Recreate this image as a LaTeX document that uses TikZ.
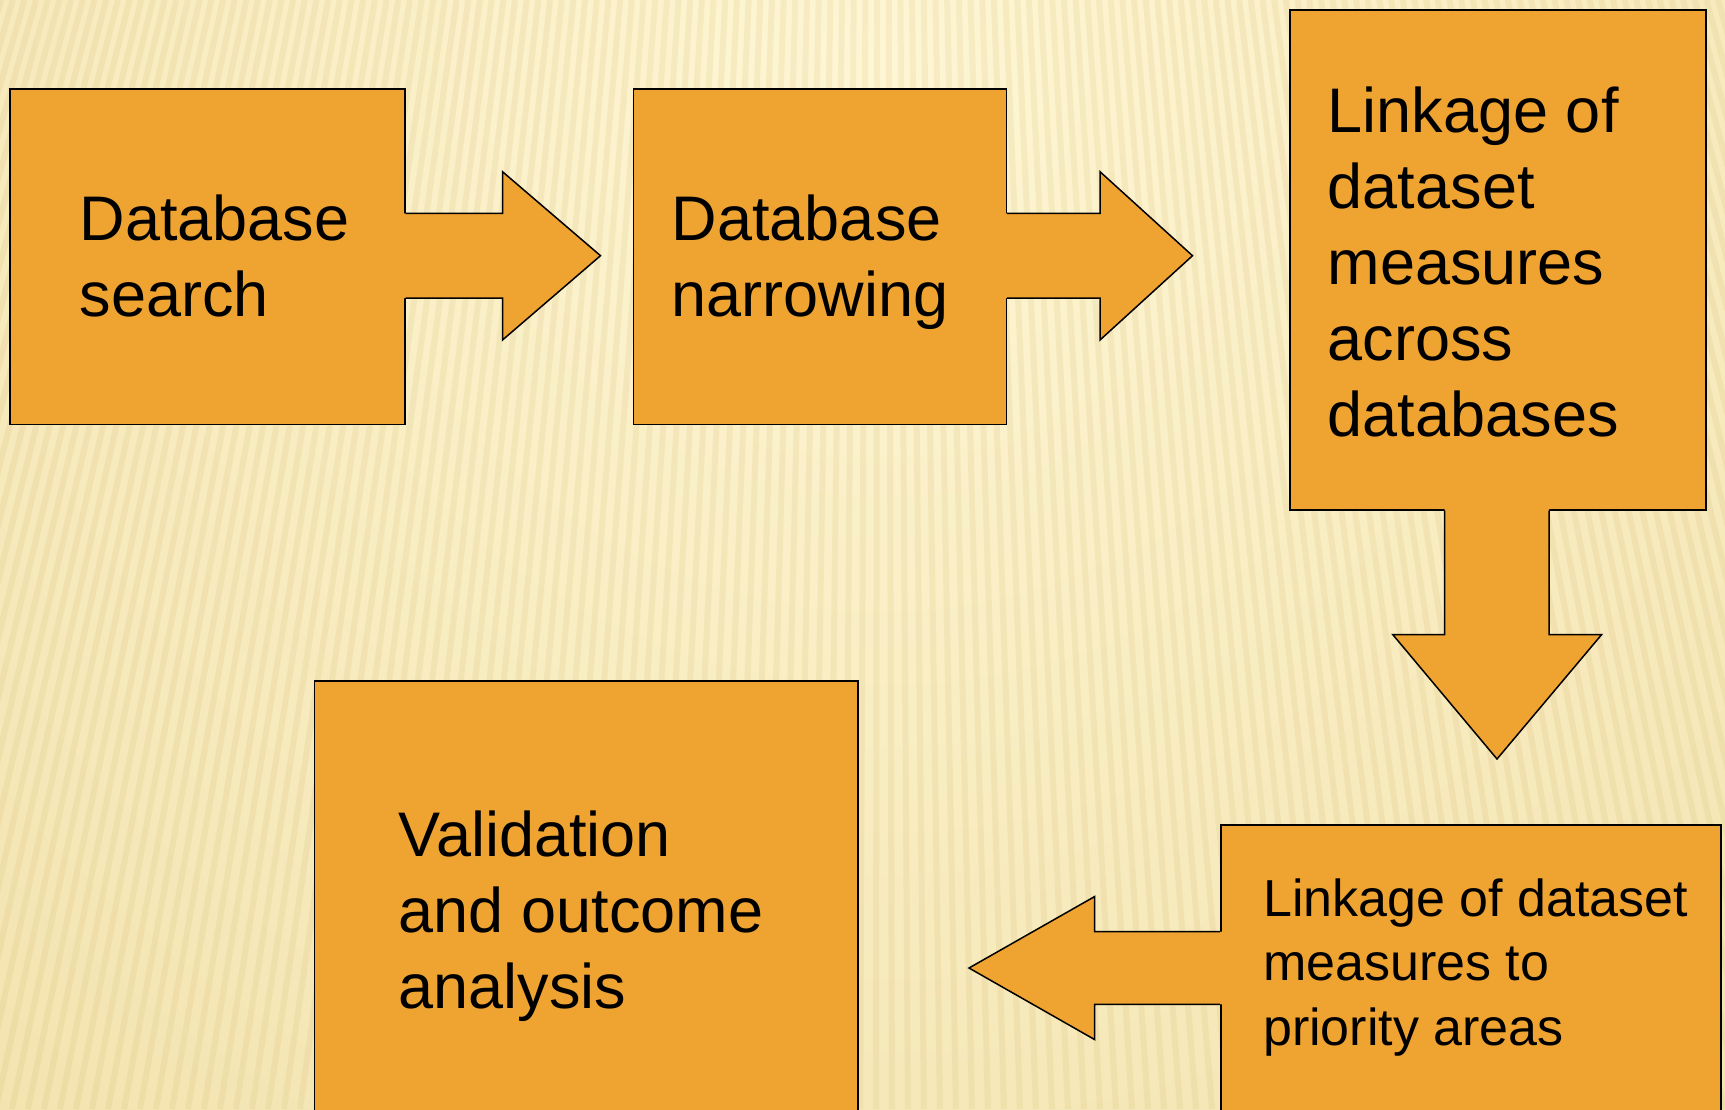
\documentclass[tikz,border=0pt]{standalone}
\usepackage{fontspec}
\setmainfont{Liberation Sans}
\usetikzlibrary{calc}

\definecolor{boxfill}{RGB}{239,163,48}
\definecolor{bglight}{RGB}{254,246,212}
\definecolor{bgdark}{RGB}{234,212,146}
\definecolor{bgstripe}{RGB}{206,176,98}

\begin{document}
\begin{tikzpicture}[x=1pt, y=-1pt,
    box/.style={rectangle, draw=black, line width=1.5pt, fill=boxfill,
                anchor=north west, inner sep=0pt},
    boxtext/.style={anchor=base west, align=left, inner sep=0pt,
                    font=\fontsize{63}{76}\selectfont},
    smalltext/.style={boxtext, font=\fontsize{52}{64.5}\selectfont},
    arrowline/.style={draw=black, line width=1.5pt, line join=miter}
]

\useasboundingbox (0,0) rectangle (1725,1109);

% background
\fill[bgdark] (0,0) rectangle (1725,1109);
\begin{scope}
    \clip (0,0) rectangle (1725,1109);
    \shade[inner color=bglight, outer color=bgdark] (880,60) circle (2500);
    \foreach \x in {-420,-404,...,2200}
        \draw[bgstripe, opacity=.14, line width=6pt] (\x,1109) -- ({880+(\x-880)*0.73},0);
\end{scope}

% boxes
\node[box, minimum width=395pt, minimum height=335.5pt] (searchbox) at (9,88) {};
\node[box, minimum width=373pt, minimum height=335.5pt] (narrowbox) at (632.6,88) {};
\node[box, minimum width=416pt, minimum height=500pt] (acrossbox) at (1289,9) {};
\node[box, minimum width=500pt, minimum height=320pt] (prioritybox) at (1220,824) {};
\node[box, minimum width=543.5pt, minimum height=460pt] (validbox) at (313.5,680) {};

% arrow tips
\coordinate (tipsearch) at (600.5,255.7);
\coordinate (tipnarrow) at (1192.5,255.7);
\coordinate (tipacross) at (1497,759);
\coordinate (tippriority) at (969,968);

% callout arrows
\fill[boxfill] (400,213.4) -- (502.5,213.4) -- (502.5,171.7) -- (tipsearch)
    -- (502.5,340) -- (502.5,298.1) -- (400,298.1) -- cycle;
\path[arrowline] (searchbox.east |- 0,213.4) -- (502.5,213.4) -- (502.5,171.7) -- (tipsearch)
    -- (502.5,340) -- (502.5,298.1) -- (searchbox.east |- 0,298.1);

\fill[boxfill] (1001,213.4) -- (1100,213.4) -- (1100,171.7) -- (tipnarrow)
    -- (1100,340) -- (1100,298.1) -- (1001,298.1) -- cycle;
\path[arrowline] (narrowbox.east |- 0,213.4) -- (1100,213.4) -- (1100,171.7) -- (tipnarrow)
    -- (1100,340) -- (1100,298.1) -- (narrowbox.east |- 0,298.1);

\fill[boxfill] (1444.5,505) -- (1444.5,634.5) -- (1392.7,634.5) -- (tipacross)
    -- (1601.7,634.5) -- (1549,634.5) -- (1549,505) -- cycle;
\path[arrowline] (1444.5,0 |- acrossbox.south) -- (1444.5,634.5) -- (1392.7,634.5) -- (tipacross)
    -- (1601.7,634.5) -- (1549,634.5) -- (1549,0 |- acrossbox.south);

\fill[boxfill] (1224,931.7) -- (1094.7,931.7) -- (1094.7,896.5) -- (tippriority)
    -- (1094.7,1039.6) -- (1094.7,1004.4) -- (1224,1004.4) -- cycle;
\path[arrowline] (prioritybox.west |- 0,931.7) -- (1094.7,931.7) -- (1094.7,896.5) -- (tippriority)
    -- (1094.7,1039.6) -- (1094.7,1004.4) -- (prioritybox.west |- 0,1004.4);

% texts (anchored on the last line)
\node[boxtext] (search) at (79.5,316.7) {Database\\search};
\node[boxtext] (narrow) at (671.7,316.7) {Database\\narrowing};
\node[boxtext] (across) at (1327.7,436.7) {Linkage of\\dataset\\measures\\across\\databases};
\node[smalltext] (priority) at (1263,1045) {Linkage of dataset\\measures to\\priority areas};
\node[boxtext] (valid) at (398.7,1008) {Validation\\and outcome\\analysis};

\end{tikzpicture}
\end{document}
